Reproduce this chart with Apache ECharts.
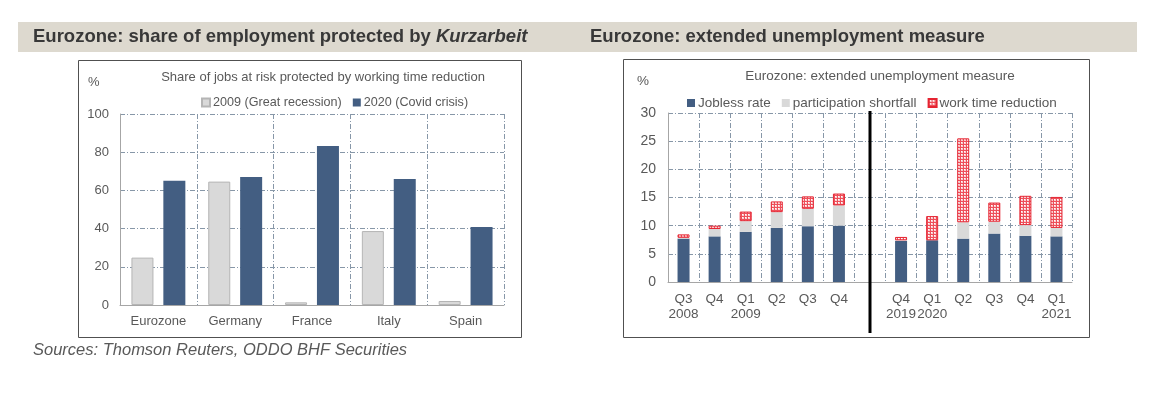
<!DOCTYPE html>
<html><head><meta charset="utf-8">
<script src="https://cdn.jsdelivr.net/npm/echarts@6/dist/echarts.min.js"></script>
<style>html,body{margin:0;padding:0;background:#fff}#c{width:1156px;height:406px}</style>
</head><body><div id="c"></div>
<script>
// ---- data ----
const countries = ['Eurozone', 'Germany', 'France', 'Italy', 'Spain'];
const share2009 = [24.8, 64.6, 1.4, 38.7, 2.1];
const share2020 = [65.1, 67.0, 83.2, 66.0, 40.8];
const leftTicks = { min: 0, max: 100, interval: 20 };

const quarters = ['Q3\n2008', 'Q4', 'Q1\n2009', 'Q2', 'Q3', 'Q4', '', 'Q4\n2019', 'Q1\n2020', 'Q2', 'Q3', 'Q4', 'Q1\n2021'];
const joblessRate = [7.7, 8.1, 8.9, 9.6, 9.9, 10.0, null, 7.3, 7.4, 7.7, 8.6, 8.2, 8.1];
const participationShortfall = [0.15, 1.3, 1.9, 2.8, 3.1, 3.6, null, 0.1, -0.3, 2.9, 2.1, 1.9, 1.5];
const workTimeReduction = [0.6, 0.6, 1.7, 1.9, 2.2, 2.1, null, 0.6, 4.3, 14.9, 3.4, 5.2, 5.5];
const rightTicks = { min: 0, max: 30, interval: 5 };
const breakIndex = 6;

// ---- styles ----
const font = '"Liberation Sans", Arial, sans-serif';
const txt = '#595959';
const blue = '#435e82';
const grey = '#d9d9d9';
const gridColor = '#8797a8';
const dash = [5, 2, 1, 2];

// dotted red pattern
const pc = document.createElement('canvas');
pc.width = 3; pc.height = 3;
const g = pc.getContext('2d');
g.fillStyle = '#f9cdd0'; g.fillRect(0, 0, 3, 3);
g.fillStyle = '#ee4f5a'; g.fillRect(0, 0, 1, 3); g.fillRect(0, 0, 3, 1);
g.fillStyle = '#ffffff'; g.fillRect(1, 1, 1, 1);
const redPattern = { image: pc, repeat: 'repeat' };

const chart = echarts.init(document.getElementById('c'));

function catAxis(gridIndex, data, fs, margin) {
  return {
    gridIndex, type: 'category', data,
    axisTick: { show: false },
    axisLine: { lineStyle: { color: '#a6a6a6', width: 1 } },
    axisLabel: { interval: 0, fontSize: fs, color: txt, margin, lineHeight: 15, fontFamily: font },
    splitLine: { show: true, interval: 0, lineStyle: { color: gridColor, type: dash, width: 1 } }
  };
}
function valAxis(gridIndex, t, fs, margin) {
  return {
    gridIndex, type: 'value', min: t.min, max: t.max, interval: t.interval,
    axisTick: { show: false },
    axisLine: { show: true, lineStyle: { color: '#a6a6a6', width: 1 } },
    axisLabel: { fontSize: fs, color: txt, margin, fontFamily: font },
    splitLine: { show: true, lineStyle: { color: gridColor, type: dash, width: 1 } }
  };
}

const option = {
  animation: false,
  textStyle: { fontFamily: font },
  grid: [
    { left: 120, top: 114, width: 384, height: 191 },
    { left: 668, top: 113, width: 404, height: 169 }
  ],
  xAxis: [catAxis(0, countries, 13, 9), catAxis(1, quarters, 13.5, 10)],
  yAxis: [valAxis(0, leftTicks, 13, 11), valAxis(1, rightTicks, 14, 12)],
  legend: [
    {
      data: ['2009 (Great recession)', '2020 (Covid crisis)'],
      left: 196, top: 91, icon: 'rect', itemWidth: 8, itemHeight: 8, itemGap: 11,
      textStyle: { fontSize: 12.6, color: txt, padding: [0, 0, 0, -2] }
    },
    {
      data: ['Jobless rate', 'participation shortfall', 'work time reduction'],
      left: 682, top: 91, icon: 'rect', itemWidth: 8, itemHeight: 8, itemGap: 11,
      textStyle: { fontSize: 13.5, color: txt, padding: [0, 0, 0, -2] }
    }
  ],
  series: [
    {
      name: '2009 (Great recession)', type: 'bar', xAxisIndex: 0, yAxisIndex: 0,
      data: share2009, barWidth: 22, barGap: '45%',
      itemStyle: { color: grey, borderColor: '#b5b5b5', borderWidth: 1 }
    },
    {
      name: '2020 (Covid crisis)', type: 'bar', xAxisIndex: 0, yAxisIndex: 0,
      data: share2020, barWidth: 22, barGap: '45%',
      itemStyle: { color: blue }
    },
    {
      name: 'Jobless rate', type: 'bar', xAxisIndex: 1, yAxisIndex: 1, stack: 'u',
      data: joblessRate, barWidth: 12, itemStyle: { color: blue }
    },
    {
      name: 'participation shortfall', type: 'bar', xAxisIndex: 1, yAxisIndex: 1, stack: 'u',
      data: participationShortfall, barWidth: 12, itemStyle: { color: grey }
    },
    {
      name: 'work time reduction', type: 'bar', xAxisIndex: 1, yAxisIndex: 1, stack: 'u',
      data: workTimeReduction, barWidth: 12,
      itemStyle: { color: redPattern, borderColor: '#e52431', borderWidth: 1 }
    }
  ],
  graphic: [
    { type: 'rect', shape: { x: 18, y: 22, width: 1119, height: 30 }, style: { fill: '#ddd9cf' }, z: -10 },
    {
      type: 'text', x: 33, y: 37, style: {
        text: '{b|Eurozone: share of employment protected by }{i|Kurzarbeit}',
        verticalAlign: 'middle',
        rich: {
          b: { fontSize: 18.5, fontWeight: 'bold', fill: '#383838', fontFamily: font },
          i: { fontSize: 18.5, fontWeight: 'bold', fontStyle: 'italic', fill: '#383838', fontFamily: font }
        }
      }
    },
    {
      type: 'text', x: 590, y: 37, style: {
        text: 'Eurozone: extended unemployment measure', verticalAlign: 'middle',
        fontSize: 18.5, fontWeight: 'bold', fill: '#383838', fontFamily: font
      }
    },
    { type: 'rect', shape: { x: 78.5, y: 60.5, width: 443, height: 277 }, style: { fill: 'none', stroke: '#505050', lineWidth: 1 }, z: -5 },
    { type: 'rect', shape: { x: 623.5, y: 59.5, width: 466, height: 278 }, style: { fill: 'none', stroke: '#505050', lineWidth: 1 }, z: -5 },
    { type: 'text', x: 88, y: 82, style: { text: '%', fontSize: 13, fill: txt, verticalAlign: 'middle', fontFamily: font } },
    { type: 'text', x: 637, y: 81, style: { text: '%', fontSize: 13.5, fill: txt, verticalAlign: 'middle', fontFamily: font } },
    { type: 'text', x: 323, y: 77, style: { text: 'Share of jobs at risk protected by working time reduction', fontSize: 13, fill: txt, align: 'center', verticalAlign: 'middle', fontFamily: font } },
    { type: 'text', x: 880, y: 76, style: { text: 'Eurozone: extended unemployment measure', fontSize: 13.5, fill: txt, align: 'center', verticalAlign: 'middle', fontFamily: font } },
    { type: 'text', x: 33, y: 350, style: { text: 'Sources: Thomson Reuters, ODDO BHF Securities', fontSize: 16.5, fontStyle: 'italic', fill: txt, verticalAlign: 'middle', fontFamily: font } }
  ]
};
chart.setOption(option);

// thick separator line through the empty category, derived from the axis scale
const bx = chart.convertToPixel({ xAxisIndex: 1 }, breakIndex);
const topY = chart.convertToPixel({ yAxisIndex: 1 }, rightTicks.max);
chart.setOption({
  graphic: option.graphic.concat([
    { type: 'line', shape: { x1: bx, y1: topY - 2, x2: bx, y2: 333 }, style: { stroke: '#000', lineWidth: 3 }, z: 100 }
  ])
});
</script>
</body></html>
